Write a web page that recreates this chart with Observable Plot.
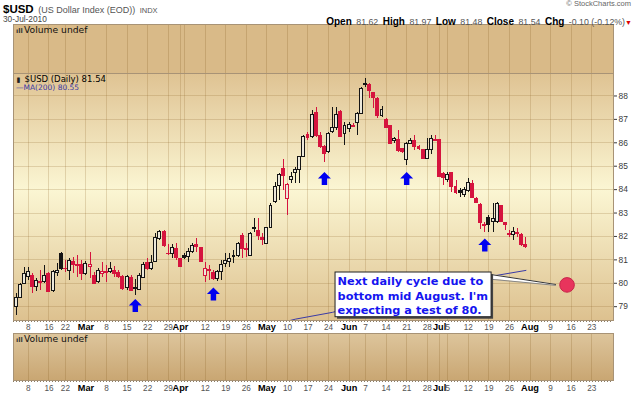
<!DOCTYPE html>
<html><head><meta charset="utf-8">
<script src="https://cdn.jsdelivr.net/npm/d3@7"></script>
<script src="https://cdn.jsdelivr.net/npm/@observablehq/plot@0.6"></script>
<style>
body{margin:0;background:#fff;width:640px;height:396px;overflow:hidden;font-family:"Liberation Sans",Arial,sans-serif;}
#header{position:relative;height:24px;}
#header div{position:absolute;white-space:nowrap;line-height:1;}
.panel svg{display:block;}
.lb{font-weight:bold;font-size:10px;color:#000;}
.vl{font-size:8.8px;color:#555;}
</style></head><body>
<svg width="0" height="0" style="position:absolute">
  <defs>
    <linearGradient id="gMain" x1="0" y1="0" x2="0" y2="1">
      <stop offset="0" stop-color="#dfc393"/>
      <stop offset="0.47" stop-color="#fbf6d3"/>
      <stop offset="1" stop-color="#ddc18f"/>
    </linearGradient>
    <linearGradient id="gVolB" x1="0" y1="0" x2="0" y2="1">
      <stop offset="0" stop-color="#ddc59c"/>
      <stop offset="1" stop-color="#c9a672"/>
    </linearGradient>
  </defs>
</svg>
<div id="header"></div>
<div id="top" class="panel"></div>
<div id="main" class="panel"></div>
<div id="bottom" class="panel"></div>
<script>
// ---------------- data ----------------
const symbol = "$USD";
const symbolName = "(US Dollar Index (EOD))";
const exchange = "INDX";
const quote = {date: "30-Jul-2010", open: 81.62, high: 81.97, low: 81.48, close: 81.54, chg: -0.10, pct: -0.12};
const maLast = 80.55;

// date, open, high, low, close
const candles = [
["2010-02-03",78.97,79.56,78.62,79.38],["2010-02-04",79.38,79.99,79.35,79.94],["2010-02-05",79.97,80.68,79.94,80.40],
["2010-02-08",80.26,80.68,80.12,80.47],["2010-02-09",80.33,80.40,79.55,79.83],["2010-02-10",79.83,80.20,79.65,80.09],
["2010-02-11",80.04,80.54,79.69,80.02],["2010-02-12",80.04,80.76,79.97,80.33],["2010-02-16",80.40,80.47,79.60,79.62],
["2010-02-17",79.66,80.54,79.60,80.47],["2010-02-18",80.43,80.84,80.29,80.54],["2010-02-19",81.26,81.32,80.54,80.62],
["2010-02-22",80.63,80.97,80.47,80.59],["2010-02-23",80.54,81.06,80.12,80.97],["2010-02-24",80.90,81.11,80.40,80.80],
["2010-02-25",80.77,81.18,80.26,80.74],["2010-02-26",80.76,80.97,80.12,80.40],
["2010-03-01",80.40,80.93,80.33,80.83],["2010-03-02",80.71,81.32,80.19,80.78],["2010-03-03",80.33,80.47,79.97,79.97],
["2010-03-04",80.04,80.63,79.99,80.54],["2010-03-05",80.40,80.90,80.26,80.50],["2010-03-08",80.47,80.76,80.04,80.44],
["2010-03-09",80.47,80.90,80.40,80.62],["2010-03-10",80.54,80.71,80.26,80.40],["2010-03-11",80.44,80.54,80.20,80.26],
["2010-03-12",80.26,80.33,79.69,79.76],["2010-03-15",79.79,80.33,79.69,80.26],["2010-03-16",80.24,80.33,79.65,79.69],
["2010-03-17",79.74,80.16,79.47,79.80],["2010-03-18",79.73,80.40,79.69,80.33],["2010-03-19",80.24,80.90,80.19,80.76],
["2010-03-22",80.85,81.07,80.54,80.62],["2010-03-23",80.62,81.18,80.54,80.88],["2010-03-24",80.93,82.11,80.90,81.92],
["2010-03-25",81.90,82.25,81.83,82.18],["2010-03-26",82.21,82.25,81.54,81.58],["2010-03-29",81.27,81.64,81.18,81.24],
["2010-03-30",81.26,81.64,81.04,81.50],["2010-03-31",81.47,81.68,80.97,81.07],
["2010-04-01",81.04,81.07,80.68,80.71],["2010-04-05",81.15,81.27,81.01,81.08],["2010-04-06",81.11,81.47,80.90,81.32],
["2010-04-07",81.32,81.68,81.26,81.58],["2010-04-08",81.63,81.90,81.32,81.53],["2010-04-09",81.51,81.54,80.90,80.93],
["2010-04-12",80.33,80.90,80.04,80.62],["2010-04-13",80.56,80.76,80.12,80.53],["2010-04-14",80.44,80.54,80.12,80.19],
["2010-04-15",80.19,80.54,80.07,80.47],["2010-04-16",80.47,80.97,80.12,80.80],["2010-04-19",80.83,81.26,80.68,80.97],
["2010-04-20",80.90,81.26,80.68,81.04],["2010-04-21",81.11,81.40,80.83,81.18],["2010-04-22",81.18,81.75,81.11,81.68],
["2010-04-23",82.04,82.11,81.04,81.47],["2010-04-26",81.47,81.68,81.11,81.40],["2010-04-27",81.18,82.18,81.14,82.11],
["2010-04-28",82.31,82.75,82.18,82.34],["2010-04-29",82.25,82.75,81.83,82.00],["2010-04-30",81.94,82.11,81.61,81.85],
["2010-05-03",81.68,82.39,81.65,82.35],["2010-05-04",82.35,83.39,82.33,83.32],["2010-05-05",83.46,84.32,83.39,84.13],
["2010-05-06",84.17,84.68,83.53,84.62],["2010-05-07",84.89,85.27,83.96,84.58],["2010-05-10",83.58,84.25,82.89,84.21],
["2010-05-11",84.39,84.74,84.25,84.52],["2010-05-12",84.70,84.96,84.25,84.85],["2010-05-13",84.82,85.42,84.25,85.39],
["2010-05-14",85.39,86.31,85.36,86.24],["2010-05-17",86.34,86.45,86.09,86.20],["2010-05-18",86.24,87.38,86.17,87.17],
["2010-05-19",87.27,87.52,86.22,86.27],["2010-05-20",86.27,86.45,85.74,85.81],["2010-05-21",85.81,85.89,85.17,85.53],
["2010-05-24",85.60,86.45,85.56,86.39],["2010-05-25",86.45,87.52,86.39,86.64],["2010-05-26",86.64,87.52,86.53,87.17],
["2010-05-27",87.31,87.38,86.24,86.24],["2010-05-28",86.36,86.88,85.90,86.70],
["2010-06-01",86.60,86.88,86.45,86.74],["2010-06-02",86.70,86.81,86.64,86.67],["2010-06-03",86.84,87.31,86.33,87.24],
["2010-06-04",87.24,88.38,87.21,88.31],["2010-06-07",88.45,88.74,88.38,88.52],["2010-06-08",88.49,88.52,87.88,88.21],
["2010-06-09",88.12,88.16,87.45,87.92],["2010-06-10",87.88,87.95,87.03,87.14],["2010-06-11",87.14,87.55,87.08,87.41],
["2010-06-14",86.98,87.03,86.60,86.64],["2010-06-15",86.70,86.74,85.96,85.96],["2010-06-16",86.06,86.24,85.96,86.17],
["2010-06-17",86.13,86.53,85.60,85.67],["2010-06-18",85.73,85.75,85.53,85.60],["2010-06-21",85.27,86.03,85.03,85.93],
["2010-06-22",85.96,86.17,85.92,86.06],["2010-06-23",86.07,86.31,85.67,85.81],["2010-06-24",85.81,85.89,85.67,85.74],
["2010-06-25",85.71,85.71,85.32,85.32],["2010-06-28",85.32,86.17,85.27,85.70],["2010-06-29",85.70,86.31,85.52,86.17],
["2010-06-30",86.13,86.31,86.07,86.07],
["2010-07-01",86.10,86.10,84.53,84.53],["2010-07-02",84.66,84.74,84.18,84.50],["2010-07-05",84.42,84.74,84.32,84.63],
["2010-07-06",84.70,84.74,83.89,84.10],["2010-07-07",84.13,84.39,83.79,83.85],["2010-07-08",83.96,84.03,83.68,83.86],
["2010-07-09",83.79,84.10,83.67,83.99],["2010-07-12",83.96,84.46,83.89,84.27],["2010-07-13",84.25,84.39,83.65,83.65],
["2010-07-14",83.59,83.65,83.40,83.42],["2010-07-15",83.36,83.39,82.28,82.56],["2010-07-16",82.50,82.61,82.18,82.45],
["2010-07-19",82.78,82.89,82.18,82.51],["2010-07-20",82.61,83.42,82.18,82.75],["2010-07-21",82.61,83.46,82.54,83.39],
["2010-07-22",83.28,83.32,82.61,82.61],["2010-07-23",82.59,82.61,82.25,82.47],["2010-07-26",82.11,82.25,81.97,82.08],
["2010-07-27",82.08,82.39,81.83,82.18],["2010-07-28",82.14,82.32,81.97,82.12],["2010-07-29",82.08,82.11,81.57,81.64],
["2010-07-30",81.62,81.97,81.48,81.54]
];
const futureDates = ["2010-08-02","2010-08-03","2010-08-04","2010-08-05","2010-08-06","2010-08-09","2010-08-10","2010-08-11","2010-08-12","2010-08-13",
"2010-08-16","2010-08-17","2010-08-18","2010-08-19","2010-08-20","2010-08-23","2010-08-24","2010-08-25","2010-08-26","2010-08-27"];

// 200-day moving average (visible part)
const ma200 = [["2010-04-30",78.12],["2010-05-12",78.47],["2010-05-25",78.76],["2010-06-15",79.45],["2010-07-07",80.05],["2010-07-21",80.34],["2010-07-30",80.55]];

const priceTicks = [79,80,81,82,83,84,85,86,87,88];
const tickDates = ["2010-02-08","2010-02-16","2010-02-22","2010-03-01","2010-03-08","2010-03-15","2010-03-22","2010-03-29","2010-04-01","2010-04-12","2010-04-19","2010-04-26",
"2010-05-03","2010-05-10","2010-05-17","2010-05-24","2010-06-01","2010-06-07","2010-06-14","2010-06-21","2010-06-28","2010-07-01","2010-07-05","2010-07-12","2010-07-19","2010-07-26",
"2010-08-02","2010-08-09","2010-08-16","2010-08-23"];
const tickLabels = ["8","16","22","Mar","8","15","22","29","Apr","12","19","26","May","10","17","24","Jun","7","14","21","28","Jul","5","12","19","26","Aug","9","16","23"];
const monthNames = ["Mar","Apr","May","Jun","Jul","Aug"];
const extraGridDates = ["2010-04-05"];

// annotations: date, price
const arrowMarks = [["2010-03-17",79.05],["2010-04-14",79.54],["2010-05-21",84.475],["2010-06-21",84.475],["2010-07-16",81.635]];
const targetMark = ["2010-08-13",79.93];
const calloutLines = ["Next daily cycle due to","bottom mid August. I'm","expecting a test of 80."];

// ---------------- build ----------------
const allDates = candles.map(d => d[0]).concat(futureDates);
const idx = new Map(allDates.map((d, i) => [d, i]));
const RED = "#d5143e", BLK = "#151515", HOLLOW = "#ece8da";
const rows = candles.map(([date, o, h, l, c], i) => ({
  date, i, o, h, l, c,
  up: i === 0 ? true : c >= candles[i - 1][4],
  hollow: c >= o
}));
const ticks = tickDates.map((d, k) => ({i: idx.get(d), label: tickLabels[k], month: monthNames.includes(tickLabels[k])}));
const gridIdx = tickDates.concat(extraGridDates).map(d => idx.get(d));

const X = {type: "linear", domain: [-0.5, 145.3], range: [13.5, 613], axis: null};
const GRID = "rgba(140,100,40,0.22)";
const BORDER = "#a89376";
const FONT = "Liberation Sans, Arial, sans-serif";
const DV = "DejaVu Sans, Verdana, sans-serif";

// header
const h = document.getElementById("header");
const sgn = quote.chg < 0 ? "" : "+";
h.innerHTML =
 `<div style="left:3px;top:0px;"><b style="font-size:11.5px;">${symbol}</b> <span style="font-size:9px;color:#555">${symbolName}</span> <span style="font-size:7.5px;color:#555">${exchange}</span></div>` +
 `<div style="left:3px;top:15px;font-size:8.3px;color:#444">${quote.date}</div>` +
 `<div style="right:9px;top:0px;font-size:7.5px;color:#666">© StockCharts.com</div>` +
 `<div style="right:8px;top:12px;"><span class="lb">Open</span> <span class="vl">${quote.open.toFixed(2)}</span> <span class="lb">High</span> <span class="vl">${quote.high.toFixed(2)}</span> <span class="lb">Low</span> <span class="vl">${quote.low.toFixed(2)}</span> <span class="lb">Close</span> <span class="vl">${quote.close.toFixed(2)}</span> <span class="lb">Chg</span> <span class="vl">${sgn}${quote.chg.toFixed(2)} (${sgn}${quote.pct.toFixed(2)}%)</span><span style="color:#d00;font-size:7px;">▼</span></div>`;

const volIcon = "ıll";
const arrowSymbol = {
  draw(ctx, size) {
    const s = Math.sqrt(size / Math.PI), w = s * 0.42;
    ctx.moveTo(0, -s); ctx.lineTo(s, 0); ctx.lineTo(w, 0); ctx.lineTo(w, s);
    ctx.lineTo(-w, s); ctx.lineTo(-w, 0); ctx.lineTo(-s, 0); ctx.closePath();
  }
};

function volumePanel(height, marginBottom, fill, withLabels) {
  const marks = [
    Plot.frame({fill}),
    Plot.ruleX(gridIdx, {stroke: "rgba(140,100,40,0.25)", shapeRendering: "crispEdges"}),
    Plot.text([volIcon], {frameAnchor: "top-left", dx: 2.5, dy: 6, lineAnchor: "middle", textAnchor: "start", fontSize: 6.5, fontWeight: "bold", fill: "#333", fontFamily: DV}),
    Plot.text(["Volume undef"], {frameAnchor: "top-left", dx: 10.5, dy: 6, lineAnchor: "middle", textAnchor: "start", fontSize: 9.2, fill: "#111", fontFamily: DV})
  ];
  if (withLabels) {
    marks.push(
      Plot.ruleY([0], {stroke: "#8c7d66", strokeDasharray: "1,2", dy: 1}),
      Plot.text(ticks.filter(d => !d.month), {x: "i", text: "label", frameAnchor: "bottom", dy: 8, lineAnchor: "middle", fill: "#555", fontSize: 8.2}),
      Plot.text(ticks.filter(d => d.month), {x: "i", text: "label", frameAnchor: "bottom", dy: 8, lineAnchor: "middle", fill: "#000", fontWeight: "bold", fontSize: 9.2})
    );
  }
  marks.push(Plot.frame({stroke: BORDER}));
  return Plot.plot({
    width: 640, height, marginTop: 0, marginBottom, marginLeft: 13, marginRight: 27,
    style: {fontFamily: FONT, background: "transparent"},
    x: X, y: {domain: [0, 1], axis: null},
    marks
  });
}

document.getElementById("top").append(volumePanel(49, 0, "#d9ba88", false));

// main price panel
const box = {x1: 77.7, x2: 115.65, y1: 78.55, y2: 80.46};
const wedge = [{i: 115.6, hi: 80.37, lo: 80.17}, {i: 131.2, hi: 79.95, lo: 79.91}];
const textBase = [79.905, 79.29, 78.70];
document.getElementById("main").append(Plot.plot({
  width: 640, height: 260, marginTop: 0, marginBottom: 13, marginLeft: 13, marginRight: 27,
  style: {fontFamily: FONT, fontSize: "8.4px", color: "#3a3a3a", background: "transparent"},
  x: X,
  y: {domain: [78.41, 88.96], axis: "right", ticks: priceTicks, tickSize: 3, tickPadding: 2, tickFormat: d => String(d), label: null},
  marks: [
    Plot.frame({fill: "url(#gMain)"}),
    Plot.ruleY(priceTicks, {stroke: GRID, shapeRendering: "crispEdges"}),
    Plot.ruleX(gridIdx, {stroke: GRID, shapeRendering: "crispEdges"}),
    Plot.ruleY([78.41], {stroke: "#8c7d66", strokeDasharray: "1,2", dy: 1}),
    Plot.line(ma200, {x: d => idx.get(d[0]), y: d => d[1], stroke: "#3a3aa6", strokeWidth: 1, clip: true}),
    Plot.ruleX(rows, {x: "i", y1: "l", y2: "h", stroke: d => d.up ? BLK : RED, strokeWidth: 1, shapeRendering: "crispEdges"}),
    Plot.rect(rows, {x1: d => d.i - 0.36, x2: d => d.i + 0.36, y1: "o", y2: "c",
      fill: d => d.hollow ? HOLLOW : (d.up ? BLK : RED), stroke: d => d.up ? BLK : RED, strokeWidth: 1, shapeRendering: "crispEdges"}),
    Plot.dot(arrowMarks, {x: d => idx.get(d[0]), y: d => d[1], symbol: arrowSymbol, r: 6.5, fill: "#0000f0", stroke: "none"}),
    // callout
    Plot.areaY(wedge, {x: "i", y1: "lo", y2: "hi", fill: "white"}),
    Plot.line(wedge, {x: "i", y: "hi", stroke: "#333", strokeWidth: 1}),
    Plot.line(wedge, {x: "i", y: "lo", stroke: "#888", strokeWidth: 1}),
    Plot.rect([box], {x1: "x1", x2: "x2", y1: "y1", y2: "y2", fill: "#444", dx: 2, dy: 2}),
    Plot.rect([box], {x1: "x1", x2: "x2", y1: "y1", y2: "y2", fill: "white", stroke: "#222", strokeWidth: 1}),
    Plot.text(calloutLines, {x: box.x1 + 0.5, y: (d, k) => textBase[k], text: d => d, textAnchor: "start", lineAnchor: "bottom",
      fill: "#1414f0", fontWeight: "bold", fontFamily: DV, fontSize: 11.3}),
    Plot.dot([targetMark], {x: d => idx.get(d[0]), y: d => d[1], r: 7.3, fill: "#e8345c", stroke: "#c8244a", strokeWidth: 1}),
    // legend
    Plot.text(["▮"], {frameAnchor: "top-left", dx: 3, dy: 6, lineAnchor: "middle", textAnchor: "start", fontSize: 7, fill: "#222", fontFamily: DV}),
    Plot.text([`${symbol} (Daily) ${quote.close.toFixed(2)}`], {frameAnchor: "top-left", dx: 11, dy: 6, lineAnchor: "middle", textAnchor: "start", fontSize: 8.5, fill: "#000", fontFamily: DV}),
    Plot.text([`\u2014MA(200) ${maLast.toFixed(2)}`], {frameAnchor: "top-left", dx: 2.5, dy: 14.5, lineAnchor: "middle", textAnchor: "start", fontSize: 7.5, fill: "#3a3aa6", fontFamily: DV}),
    // x labels
    Plot.text(ticks.filter(d => !d.month), {x: "i", text: "label", frameAnchor: "bottom", dy: 6.5, lineAnchor: "middle", fill: "#555", fontSize: 8.2}),
    Plot.text(ticks.filter(d => d.month), {x: "i", text: "label", frameAnchor: "bottom", dy: 6.5, lineAnchor: "middle", fill: "#000", fontWeight: "bold", fontSize: 9.2}),
    Plot.frame({stroke: BORDER})
  ]
}));

document.getElementById("bottom").append(volumePanel(63, 16, "url(#gVolB)", true));
</script>
</body></html>
